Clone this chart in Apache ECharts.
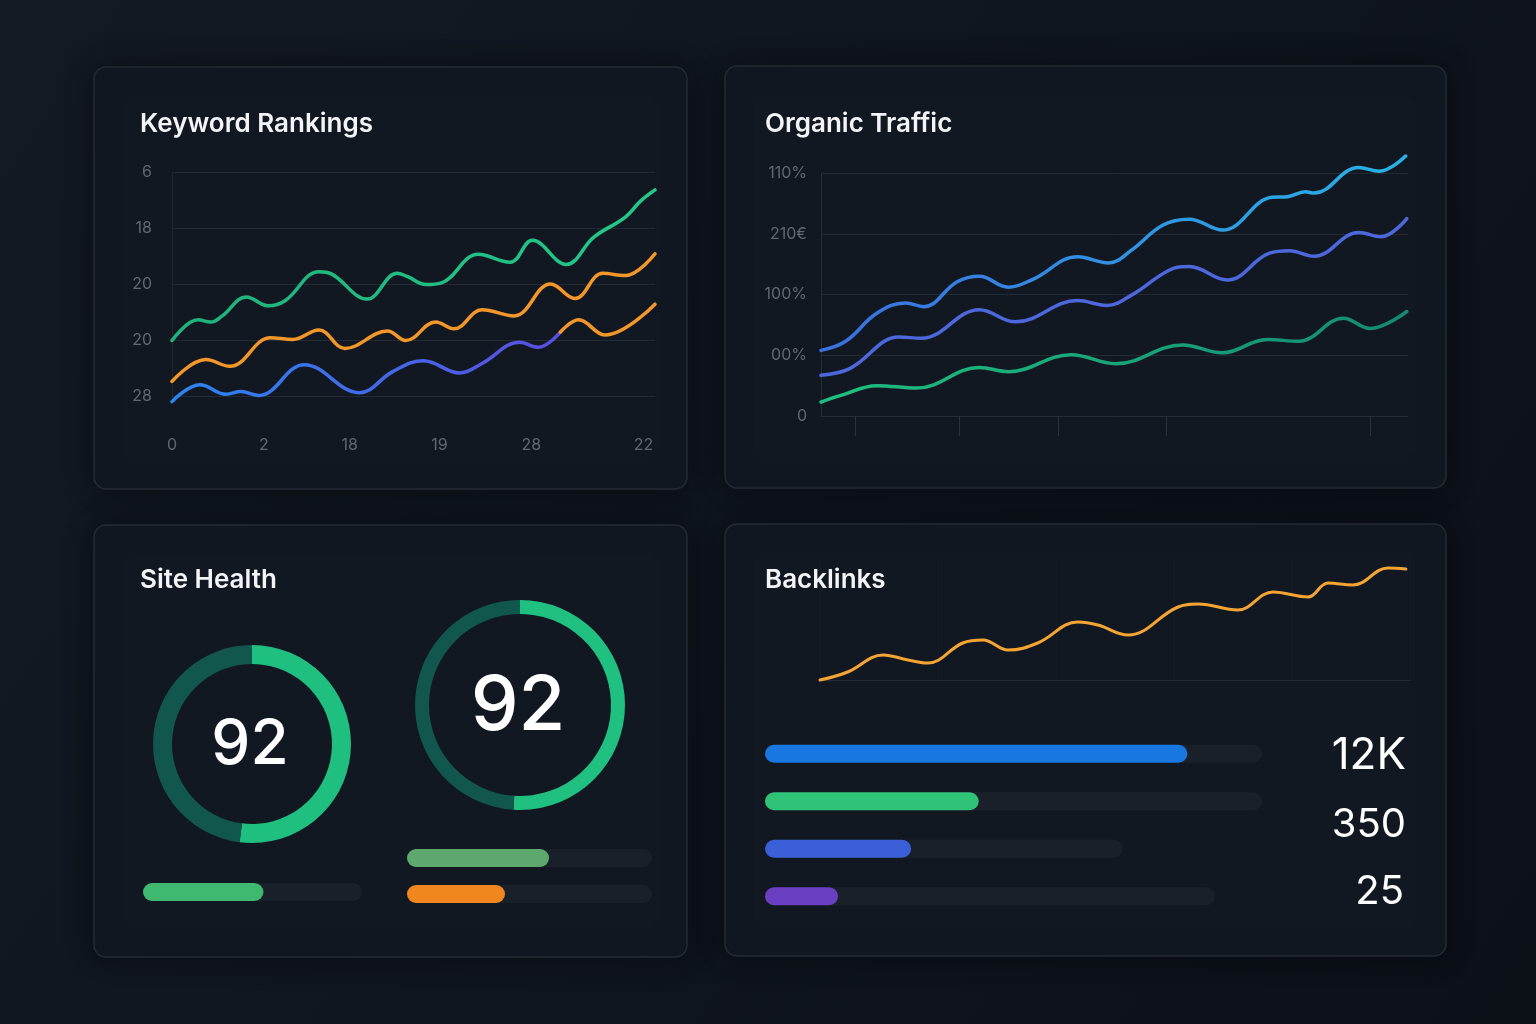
<!DOCTYPE html>
<html><head><meta charset="utf-8">
<script src="https://cdn.jsdelivr.net/npm/echarts@6/dist/echarts.min.js"></script>
<style>html,body{margin:0;padding:0;background:#0e131b;}#c{width:1536px;height:1024px;}</style>
</head><body><div id="c"></div>
<script>
// ---- Keyword Rankings ----
const kwYLabels = ['28','20','20','18','6'];
const kwXLabels = ['0','2','18','19','28','22'];
const kwXPos = [0,0.95,1.84,2.77,3.72,4.88];
const kwGreen = [[0,0.99],[0.27,1.36],[0.4,1.32],[0.52,1.43],[0.77,1.77],[1.0,1.61],[1.17,1.7],[1.52,2.22],[1.65,2.18],[2.02,1.73],[2.33,2.19],[2.44,2.13],[2.63,1.99],[2.79,2.02],[3.17,2.53],[3.5,2.39],[3.73,2.78],[4.08,2.35],[4.37,2.84],[4.69,3.19],[4.85,3.48],[5.0,3.68]];
const kwOrange = [[0,0.26],[0.35,0.65],[0.6,0.53],[1.02,1.04],[1.25,1.01],[1.52,1.18],[1.79,0.85],[2.23,1.16],[2.42,0.99],[2.73,1.32],[2.92,1.2],[3.21,1.54],[3.54,1.43],[3.92,2.0],[4.17,1.74],[4.46,2.19],[4.69,2.15],[5.0,2.54]];
const kwBlue = [[0,-0.1],[0.29,0.2],[0.56,0.03],[0.71,0.08],[0.9,0.01],[1.37,0.56],[1.94,0.06],[2.29,0.44],[2.6,0.63],[2.98,0.41],[3.21,0.58],[3.6,0.96],[3.79,0.87],[4.02,1.14]];
const kwBlueTail = [[4.02,1.14],[4.21,1.36],[4.48,1.09],[5.0,1.64]];
// ---- Organic Traffic ----
const otYLabels = ['0','00%','100%','210€','110%'];
const otTicks = [0.59,2.36,4.05,5.88,9.35];
const otCyan = [[0,1.08],[0.42,1.23],[0.95,1.69],[1.44,1.86],[1.75,1.8],[2.32,2.21],[2.7,2.3],[3.19,2.12],[3.61,2.25],[4.37,2.62],[4.9,2.52],[5.29,2.73],[5.82,3.14],[6.27,3.24],[6.84,3.06],[7.68,3.6],[7.95,3.61],[8.25,3.69],[8.4,3.67],[9.16,4.09],[9.51,4.03],[9.96,4.28]];
const otBlue = [[0,0.67],[0.49,0.78],[1.33,1.3],[1.71,1.28],[2.7,1.75],[3.31,1.55],[4.37,1.9],[4.87,1.82],[5.29,1.99],[5.93,2.4],[6.27,2.46],[6.92,2.24],[7.64,2.68],[7.98,2.72],[8.4,2.63],[9.16,3.02],[9.54,2.95],[9.98,3.25]];
const otGreen = [[0,0.23],[0.34,0.34],[0.95,0.5],[1.63,0.46],[2.7,0.8],[3.19,0.73],[4.26,1.01],[5.02,0.86],[6.16,1.17],[6.84,1.04],[7.6,1.26],[8.14,1.23],[8.9,1.61],[9.35,1.44],[9.98,1.72]];
// ---- Site Health ----
const healthScores = ['92','92'];
const ringFill = [52,51];
const healthBar1 = [55]; const healthBar1Track = [100];
const healthBars2 = [58,40]; const healthBars2Track = [100,100];
// ---- Backlinks ----
const blLine = [[0,0],[0.47,8],[1.07,25],[1.49,20],[1.83,17],[2.42,37],[2.76,40],[3.19,30],[3.69,37],[4.37,58],[4.71,55],[5.22,45],[6.07,73],[6.41,76],[7.08,70],[7.68,88],[8.27,83],[8.61,97],[9.03,95],[9.63,112],[9.93,111]];
const blBars = [85,43,29.4,14.7];
const blTracks = [100,100,72,90.6];
const blLabels = ['12K','350','25'];

const chart = echarts.init(document.getElementById('c'));
const FONT = 'Inter, "Noto Sans", sans-serif';
const axisLbl = {color:'#5f6873', fontSize:16, fontFamily:FONT};
const gridLine = {lineStyle:{color:'#222a34', width:1}};
function panel(x,y,w,h){return {type:'rect',shape:{x,y,width:w,height:h,r:12},style:{fill:'#121821',stroke:'#242b35',lineWidth:1.5,shadowBlur:30,shadowColor:'rgba(0,0,0,0.45)'},z:-10};}
function title(t,x,y){return {type:'text',x,y,style:{text:t,fill:'#f2f4f7',font:'600 26px '+FONT,textVerticalAlign:'middle'},z:10};}
function line(data,color,gi,width){return {type:'line',xAxisIndex:gi,yAxisIndex:gi,data,smooth:0.4,symbol:'none',clip:false,lineStyle:{color,width:width||3.5,cap:'round'}};}
function grad(a,b){return new echarts.graphic.LinearGradient(0,0,1,0,[{offset:0,color:a},{offset:1,color:b}]);}
function hbar(gi,data,color,track,trackColor){
  return [{type:'bar',xAxisIndex:gi,yAxisIndex:gi,data:track,barWidth:18,barGap:'-100%',itemStyle:{color:trackColor||'#19202a',borderRadius:9},silent:true,z:1},
          {type:'bar',xAxisIndex:gi,yAxisIndex:gi,data:data.map((v,i)=>({value:v,itemStyle:{color:Array.isArray(color)?color[i]:color}})),barWidth:18,itemStyle:{borderRadius:9},z:2}];
}
const cats = n=>Array.from({length:n},(_,i)=>'c'+i);

const option = {
  backgroundColor: new echarts.graphic.LinearGradient(0,0,1,1,[{offset:0,color:'#141a24'},{offset:1,color:'#0c1118'}]),
  animation:false,
  grid:[
    {left:172,top:172,width:483,height:224},
    {left:821,top:173,width:587,height:243},
    {left:820,top:560,width:590,height:120},
    {left:765,top:730,width:497,height:190},
    {left:143,top:877,width:219,height:30},
    {left:407,top:840,width:245,height:72}
  ],
  xAxis:[
    {gridIndex:0,type:'value',min:0,max:5,offset:15,axisLine:{lineStyle:{color:'#222a34'}},axisTick:{show:false},splitLine:{show:false},
      axisLabel:Object.assign({},axisLbl,{margin:26,customValues:kwXPos,formatter:v=>kwXLabels[kwXPos.indexOf(v)]})},
    {gridIndex:1,type:'value',min:0,max:10,axisLine:{lineStyle:{color:'#252d37'}},axisTick:{show:true,customValues:otTicks,length:20,inside:false,lineStyle:{color:'#2a323d'}},axisLabel:{show:false},splitLine:{show:false}},
    {gridIndex:2,type:'value',min:0,max:10,axisLine:{lineStyle:{color:'#232a34'}},axisTick:{show:false},axisLabel:{show:false},splitLine:{show:true,lineStyle:{color:'#161c25'}}},
    {gridIndex:3,type:'value',min:0,max:100,show:false},
    {gridIndex:4,type:'value',min:0,max:100,show:false},
    {gridIndex:5,type:'value',min:0,max:100,show:false}
  ],
  yAxis:[
    {gridIndex:0,type:'value',min:0,max:4,interval:1,axisLine:{show:true,lineStyle:{color:'#1f2630'}},axisTick:{show:false},splitLine:gridLine,
      axisLabel:Object.assign({},axisLbl,{margin:20,formatter:v=>kwYLabels[v]})},
    {gridIndex:1,type:'value',min:0,max:4,interval:1,axisLine:{show:true,lineStyle:{color:'#252d37'}},axisTick:{show:false},splitLine:gridLine,
      axisLabel:Object.assign({},axisLbl,{margin:14,formatter:v=>otYLabels[v]})},
    {gridIndex:2,type:'value',min:0,max:120,show:false},
    {gridIndex:3,type:'category',data:cats(4),inverse:true,show:false},
    {gridIndex:4,type:'category',data:cats(1),show:false},
    {gridIndex:5,type:'category',data:cats(2),inverse:true,show:false}
  ],
  series:[
    line(kwGreen,grad('#1fb27a','#22c98a'),0),
    line(kwOrange,'#f3972a',0),
    line(kwBlue,grad('#2a86f0','#5a4ee0'),0),
    line(kwBlueTail,'#f3972a',0),
    line(otCyan,grad('#3b6fe0','#27b3e6'),1),
    line(otBlue,'#4d68dc',1),
    line(otGreen,grad('#1fbf80','#138a72'),1),
    line(blLine,'#f5a533',2,3),
    ...hbar(3,blBars,['#1877e0','#2fc378','#3a5fd9','#6a3fc2'],blTracks),
    ...hbar(4,healthBar1,'#3fb870',healthBar1Track),
    ...hbar(5,healthBars2,['#5ea86e','#f0861e'],healthBars2Track),
    {type:'pie',center:[252,744],radius:[80,99],startAngle:90,silent:true,label:{show:false},
      data:[{value:ringFill[0],itemStyle:{color:'#1fbf80'}},{value:100-ringFill[0],itemStyle:{color:'#12574d'}}]},
    {type:'pie',center:[520,705],radius:[91,105],startAngle:90,silent:true,label:{show:false},
      data:[{value:ringFill[1],itemStyle:{color:'#1fc080'}},{value:100-ringFill[1],itemStyle:{color:'#12574d'}}]}
  ],
  graphic:[
    panel(94,67,593,422), panel(725,66,721,422), panel(94,525,593,432), panel(725,524,721,432),
    title('Keyword Rankings',140,124), title('Organic Traffic',765,124), title('Site Health',140,580), title('Backlinks',765,580),
    {type:'text',x:250,y:745,style:{text:healthScores[0],fill:'#ffffff',font:'500 62px '+FONT,textAlign:'center',textVerticalAlign:'middle'},z:10},
    {type:'text',x:518,y:707,style:{text:healthScores[1],fill:'#ffffff',font:'500 76px '+FONT,textAlign:'center',textVerticalAlign:'middle'},z:10},
    {type:'text',x:1406,y:756,style:{text:blLabels[0],fill:'#ffffff',font:'400 44px '+FONT,textAlign:'right',textVerticalAlign:'middle'},z:10},
    {type:'text',x:1406,y:825,style:{text:blLabels[1],fill:'#ffffff',font:'400 40px '+FONT,textAlign:'right',textVerticalAlign:'middle'},z:10},
    {type:'text',x:1404,y:892,style:{text:blLabels[2],fill:'#ffffff',font:'400 40px '+FONT,textAlign:'right',textVerticalAlign:'middle'},z:10}
  ]
};
chart.setOption(option);
</script></body></html>
